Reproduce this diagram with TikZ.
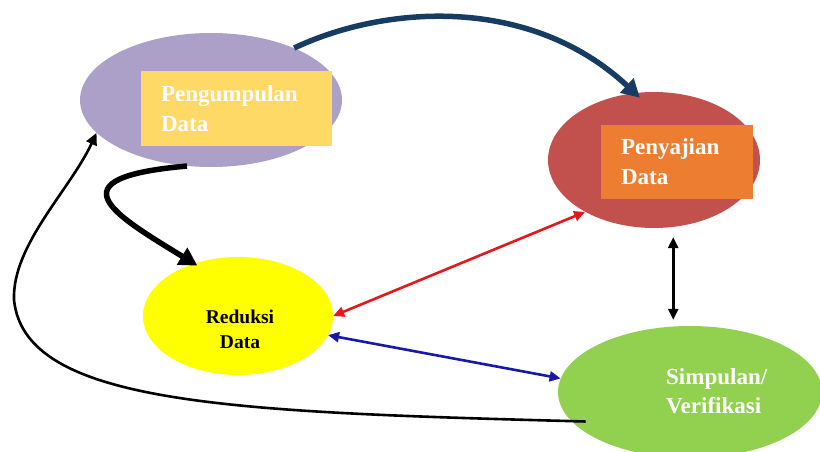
\documentclass[tikz,border=0pt]{standalone}
\usepackage{fontspec}
\setmainfont{Liberation Serif}
\usetikzlibrary{shapes.geometric,arrows.meta}

\definecolor{purpleC}{RGB}{172,160,200}
\definecolor{goldC}{RGB}{255,217,102}
\definecolor{redC}{RGB}{194,80,77}
\definecolor{orangeC}{RGB}{237,125,49}
\definecolor{yellowC}{RGB}{255,255,0}
\definecolor{greenC}{RGB}{146,208,80}
\definecolor{navyC}{RGB}{23,60,100}
\definecolor{redA}{RGB}{225,25,30}
\definecolor{blueA}{RGB}{25,25,165}

\begin{document}
\begin{tikzpicture}[x=1pt,y=-1pt,
  stage/.style={ellipse, draw=none, inner sep=0pt},
  tagbox/.style={rectangle, inner xsep=20pt, inner ysep=0pt, align=left,
    text=white, font=\bfseries\fontsize{23}{30}\selectfont},
  bigflow/.style={line width=5.5pt, -{Triangle[length=18pt,width=19pt]}},
  thinflow/.style={line width=2.6pt, -{Triangle[length=12pt,width=11pt]}},
  pair/.style={line width=2.6pt, {Triangle[length=11pt,width=10pt]}-{Triangle[length=11pt,width=10pt]}}
]
\useasboundingbox (0,0) rectangle (820,452);
\clip (0,0) rectangle (820,452);

% stages of the cycle
\node[stage, fill=purpleC, minimum width=262pt, minimum height=134pt] (collect) at (211,100) {};
\node[tagbox, fill=goldC, minimum width=191pt, minimum height=75pt, text width=151pt]
  (collecttag) at (236.5,108.5) {Pengumpulan\\Data};

\node[stage, fill=redC, minimum width=212pt, minimum height=136pt] (present) at (654,160) {};
\node[tagbox, fill=orangeC, minimum width=152pt, minimum height=74pt, text width=112pt]
  (presenttag) at (677,162) {Penyajian\\Data};

\node[stage, fill=yellowC, minimum width=190pt, minimum height=118pt] (reduce) at (238,316) {};
\node[align=center, font=\bfseries\fontsize{19.5}{25}\selectfont]
  (reducetxt) at (240,329) {Reduksi\\Data};

\node[stage, fill=greenC, minimum width=264pt, minimum height=132pt] (conclude) at (690,392) {};
\node[anchor=west, align=left, text=white, inner sep=0pt,
  font=\bfseries\fontsize{23}{29}\selectfont]
  (concludetxt) at (666,391) {Simpulan/\\Verifikasi};

% flow between the stages
\draw[bigflow, navyC, shorten >=-7pt] (collect.32)
  .. controls (385,5) and (530,-5) .. (present.106);
\draw[bigflow, black, shorten >=-4pt] (collect.250)
  .. controls (50,178) and (115,215) .. (reduce.130);
\coordinate (bend) at (14,300);
\draw[thinflow, black] ([xshift=14pt]conclude.194)
  .. controls (230,412) and (25,405) .. (bend)
  .. controls (12,245) and (70,190) .. (collect.196);

\draw[pair, redA] (reduce.0) -- (present.217);
\draw[pair, blueA] (reduce.-12) -- (conclude.174);
\coordinate (vtop) at ([yshift=-10pt]present.-74);
\draw[pair, black] (vtop) -- ([yshift=6pt]vtop |- conclude.north);
\end{tikzpicture}
\end{document}
